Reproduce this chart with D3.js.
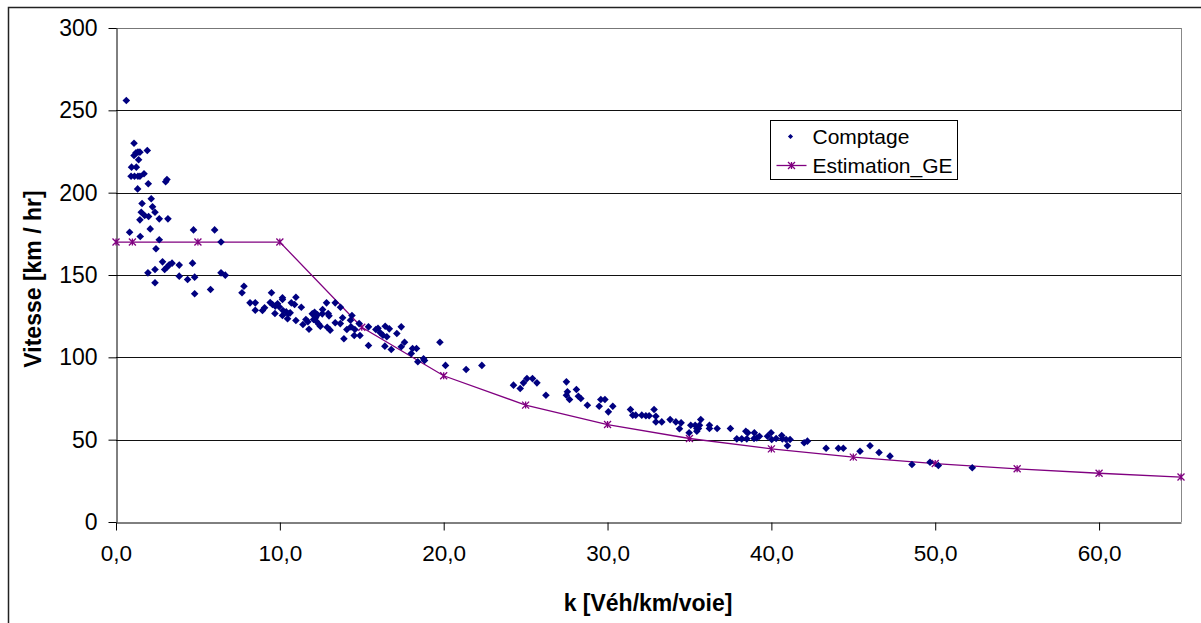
<!DOCTYPE html>
<html>
<head>
<meta charset="utf-8">
<script src="https://cdn.jsdelivr.net/npm/d3@7"></script>
<style>
    body { margin: 0; background: #fff; }
    svg { display: block; font-family: "Liberation Sans", Arial, sans-serif; }
</style>
</head>
<body>
<div id="chart"></div>
<script>
// Comptage : observed points (k, vitesse)
const comptageK = [
    0.63, 1.10, 1.10, 1.22, 1.34, 1.46, 1.38, 1.91, 0.95, 1.24,
    0.92, 1.13, 1.34, 1.46, 1.71, 1.97, 3.03, 3.11, 1.32, 2.15,
    1.59, 2.23, 2.38, 1.54, 1.75, 1.99, 1.46, 2.64, 3.17, 2.09,
    0.83, 1.48, 4.73, 6.02, 2.64, 6.41, 2.44, 2.84, 2.97, 3.11,
    3.25, 3.42, 1.95, 2.38, 3.86, 4.67, 3.86, 4.37, 4.80, 2.38,
    4.80, 6.41, 6.67, 5.77, 7.81, 7.69, 8.18, 8.50,
    8.50, 8.94, 9.07, 9.49, 9.41, 9.55, 9.72, 9.86, 9.96,
    9.70, 10.16, 10.19, 10.39, 10.51, 10.47, 10.63, 10.16, 10.16, 10.98,
    10.70, 10.90, 11.31, 10.98, 11.41, 11.59, 11.71, 11.78,
    11.98, 12.12, 12.30, 12.18, 12.06, 12.24, 12.38, 12.47, 12.61, 12.59,
    12.85, 12.95, 13.00, 12.89, 13.07, 13.38, 13.70, 13.38, 13.69, 13.91,
    13.83, 14.09, 14.34, 14.58, 14.31, 14.40, 14.54, 14.89, 14.84, 15.41,
    15.41, 15.86, 15.99, 16.13, 16.29, 16.53, 16.43, 16.68, 16.41, 16.80,
    17.14, 17.41, 17.61, 17.41, 18.10, 18.34, 18.02, 18.42, 18.77, 18.83,
    19.77, 20.11, 21.37, 22.33,
    24.26, 24.67, 24.87, 25.08, 25.42, 25.69, 26.24, 27.49, 27.55, 27.49,
    27.68, 28.10, 28.22, 28.37, 28.77, 29.59, 29.84, 29.49, 30.05, 30.32,
    31.40, 31.54, 31.72, 32.09, 32.34, 32.54, 32.84, 32.95, 32.95, 33.31,
    33.82, 34.17, 34.49, 34.39, 34.98, 35.08, 35.35, 35.45, 35.55, 35.61,
    35.45, 35.69, 36.22, 36.22, 36.69, 37.50, 37.89, 38.19, 38.50, 38.44,
    38.56, 38.96, 39.11, 38.94, 39.27,
    39.76, 39.98, 40.02, 40.29, 40.63, 40.67, 40.90, 41.14, 40.98, 42.00,
    42.20, 43.34, 44.09, 44.39, 45.41, 46.02, 46.57, 47.24, 48.58, 49.68,
    50.19, 52.26
];
const comptageV = [
    256, 230, 222.6, 224.2, 224.6, 224.6, 220, 225.6, 215.5, 215.5,
    210, 210, 210, 210, 211.5, 205.4, 206.6, 208, 202.3, 196.3,
    193.4, 191.4, 188.1, 188.1, 186.1, 185.5, 183.5, 184.1, 184.1, 178,
    176, 173.4, 177.4, 177.4, 171.4, 170, 165.9, 158, 153.3, 154.7,
    156.2, 157.2, 151.3, 153.3, 156, 157.2, 149.3, 147.3, 148.7, 145.3,
    138.6, 151.3, 149.9, 141.2, 143.2, 139.2, 133.1, 133.1,
    128.6, 128.4, 130.1, 139.2, 133.3, 132.1, 131.1, 132.5, 130.7,
    126.6, 125.4, 128.4, 127.6, 126.4, 123.4, 127, 136.2, 135.1, 136.5,
    133.1, 132.1, 130.4, 122.4, 119.9, 123, 121.6, 117.1,
    126.4, 127.4, 125.8, 124, 123, 121.8, 120.1, 118.9, 129, 126.4,
    133.1, 126.6, 125.2, 118.3, 116.5, 133.1, 130.4, 121, 120.5, 111.3,
    124, 116.9, 118.5, 116.9, 122.5, 125.4, 113.3, 113.3, 120.5, 118.5,
    107.2, 116.9, 117.7, 114.9, 113.4, 112.5, 118.9, 117.3, 106.8, 104.8,
    114.5, 118.5, 109.2, 106.4, 105.4, 105.4, 102.3, 97.3, 99.1, 98.1,
    109.2, 95.1, 92.6, 95.1,
    83.1, 81.1, 84.5, 87.1, 87.1, 84.5, 77, 85.1, 79.1, 77,
    74.4, 80.5, 76.4, 75, 70.9, 74.4, 74.4, 70.3, 66.9, 70.3,
    68.3, 64.9, 64.9, 64.9, 64.5, 64.5, 68.3, 64.2, 60.8, 60.8,
    62.2, 60.8, 60.2, 56.6, 54.2, 58.8, 58.8, 56.8, 56.8, 58.8,
    55.1, 62.2, 58.8, 56.8, 56.8, 56.8, 50.5, 50.5, 50.5, 55.1,
    54.2, 54.2, 51.1, 50.7, 52.1,
    52.1, 54.2, 50.1, 50.7, 52.5, 50.5, 50.1, 50.1, 46.3, 48.1,
    49.1, 44.8, 44.8, 44.8, 43, 46.3, 42.2, 40, 34.9, 36.3,
    34.3, 32.9
];

// Estimation_GE : fitted curve
const estimK = [0, 1, 5, 10, 15, 20, 25, 30, 35, 40, 45, 50, 55, 60, 65];
const estimV = [170, 170, 170, 170, 118.3, 88.8, 71, 59.2, 50.7, 44.4, 39.4, 35.5, 32.3, 29.6, 27.3];

const xTicks = [0, 10, 20, 30, 40, 50, 60];
const yTicks = [0, 50, 100, 150, 200, 250, 300];
const seriesNames = ['Comptage', 'Estimation_GE'];

const W = 1201, H = 623;
const margin = { top: 28, right: 20, bottom: 101, left: 116 };
const plotW = 1181 - margin.left, plotH = 522 - margin.top;

const blue = '#000080', purple = '#800080';

const svg = d3.select('#chart').append('svg')
    .attr('width', W)
    .attr('height', H);

// outer chart frame (only left and top are inside the picture)
svg.append('rect')
    .attr('x', 8.5).attr('y', 7.5)
    .attr('width', W + 20).attr('height', H + 20)
    .attr('fill', '#fff')
    .attr('stroke', '#222')
    .attr('stroke-width', 1.5);

const g = svg.append('g').attr('transform', `translate(${margin.left},${margin.top})`);

const x = d3.scaleLinear().domain([0, 65]).range([0, plotW]);
const y = d3.scaleLinear().domain([0, 300]).range([plotH, 0]);

// gridlines
g.append('g')
    .selectAll('line')
    .data(yTicks.filter(d => d > 0))
    .join('line')
    .attr('x1', 0).attr('x2', plotW)
    .attr('y1', d => Math.round(y(d)) + 0.5).attr('y2', d => Math.round(y(d)) + 0.5)
    .attr('stroke', d => d === 300 ? '#777' : '#111')
    .attr('stroke-width', 1);

// right border of plot area
g.append('line')
    .attr('x1', plotW + 0.5).attr('x2', plotW + 0.5)
    .attr('y1', 0).attr('y2', plotH)
    .attr('stroke', '#888');

// axes
const xAxis = g.append('g')
    .attr('transform', `translate(0,${plotH + 0.5})`)
    .call(d3.axisBottom(x).tickValues(xTicks).tickSize(8).tickSizeOuter(0)
        .tickFormat(d => d3.format('.1f')(d).replace('.', ',')));
xAxis.selectAll('text').attr('font-size', 22.5).attr('fill', '#000').attr('y', 31).attr('dy', '0.35em');

const yAxis = g.append('g')
    .attr('transform', 'translate(0.5,0)')
    .call(d3.axisLeft(y).tickValues(yTicks).tickSize(8).tickSizeOuter(0));
yAxis.selectAll('text').attr('font-size', 23).attr('fill', '#000').attr('x', -19);

[xAxis, yAxis].forEach(a => {
    a.select('.domain').attr('stroke', '#000');
    a.selectAll('.tick line').attr('stroke', '#000');
    a.attr('font-family', null);
});

// estimation line
const line = d3.line().x(d => x(d[0])).y(d => y(d[1]));
const estim = estimK.map((k, i) => [k, estimV[i]]);
g.append('path')
    .datum(estim)
    .attr('d', line)
    .attr('fill', 'none')
    .attr('stroke', purple)
    .attr('stroke-width', 1.3);

function star(sel, s) {
    sel.append('path')
        .attr('d', `M${-s},${-s}L${s},${s}M${-s},${s}L${s},${-s}M0,${-s}L0,${s}`)
        .attr('stroke', purple)
        .attr('stroke-width', 1.3)
        .attr('fill', 'none');
}

g.append('g')
    .selectAll('g')
    .data(estim)
    .join('g')
    .attr('transform', d => `translate(${x(d[0])},${y(d[1])})`)
    .each(function() { star(d3.select(this), 3.5); });

// scatter points (square diamonds like the spreadsheet marker)
const dia = r => `M0,${-r}L${r},0L0,${r}L${-r},0Z`;
g.append('g')
    .selectAll('path')
    .data(comptageK.map((k, i) => [k, comptageV[i]]))
    .join('path')
    .attr('d', dia(3.8))
    .attr('transform', d => `translate(${x(d[0])},${y(d[1])})`)
    .attr('fill', blue);

// axis titles
svg.append('text')
    .attr('x', 648).attr('y', 611)
    .attr('text-anchor', 'middle')
    .attr('font-size', 23).attr('font-weight', 'bold')
    .text('k [Véh/km/voie]');

svg.append('text')
    .attr('transform', 'translate(41,279) rotate(-90)')
    .attr('text-anchor', 'middle')
    .attr('font-size', 23).attr('font-weight', 'bold')
    .text('Vitesse [km / hr]');

// legend
const legend = svg.append('g').attr('transform', 'translate(770.5,120.5)');
legend.append('rect')
    .attr('width', 187).attr('height', 59)
    .attr('fill', '#fff').attr('stroke', '#000');

legend.append('path')
    .attr('d', dia(2.6))
    .attr('transform', 'translate(20,16)')
    .attr('fill', blue);
legend.append('line')
    .attr('x1', 6).attr('x2', 36).attr('y1', 45).attr('y2', 45)
    .attr('stroke', purple).attr('stroke-width', 1.3);
star(legend.append('g').attr('transform', 'translate(21,45)'), 3.5);

legend.selectAll('text.lab')
    .data(seriesNames)
    .join('text')
    .attr('class', 'lab')
    .attr('x', 42)
    .attr('y', (d, i) => 16 + i * 29)
    .attr('dy', '0.35em')
    .attr('font-size', 21)
    .text(d => d);
</script>
</body>
</html>
